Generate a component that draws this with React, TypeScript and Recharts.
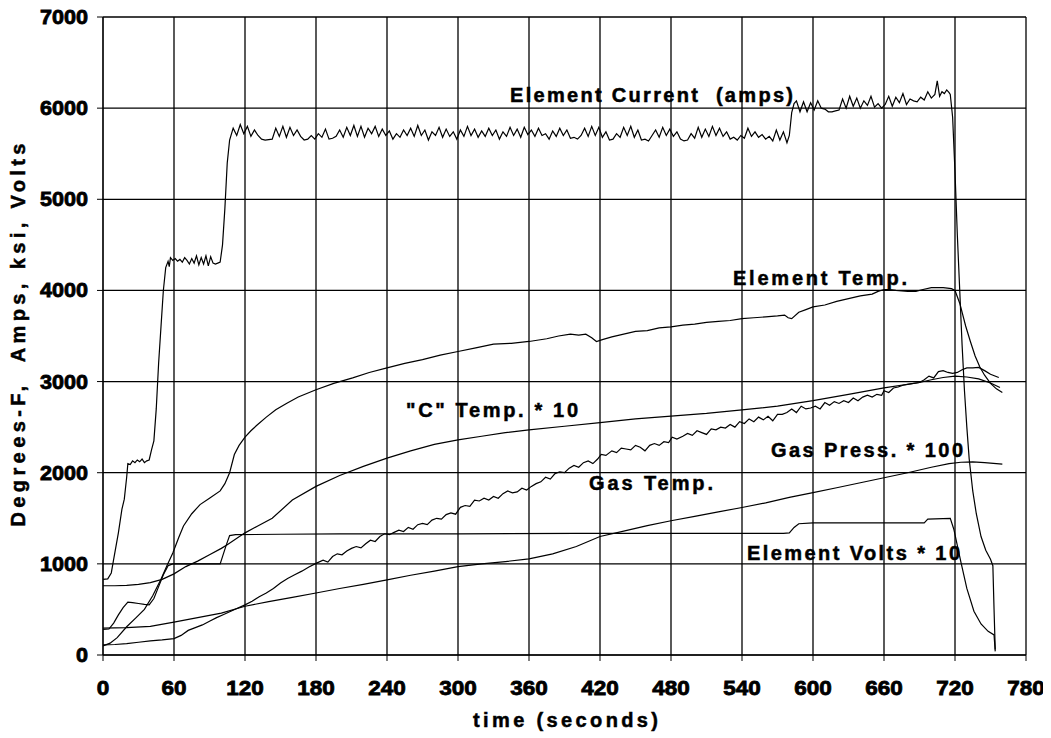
import React, { type ReactElement } from "react";
import { CartesianGrid, Line, LineChart, XAxis, YAxis } from "recharts";

type Point = [number, number];

const timeTicks = [0, 60, 120, 180, 240, 300, 360, 420, 480, 540, 600, 660, 720, 780];
const valueTicks = [0, 1000, 2000, 3000, 4000, 5000, 6000, 7000];

// [time (s), value]
const elementCurrent: Point[] = [
  [0, 830], [4, 835], [7, 900], [9, 1050], [13, 1340], [16, 1600], [18, 1710], [20, 1950], [21, 2100],
  [23, 2090], [25, 2130], [27, 2110], [29, 2140], [31, 2120], [33, 2150], [35, 2110], [37, 2130],
  [39, 2140], [41, 2250], [43, 2350], [45, 2700], [47, 3200], [49, 3600], [51, 4000], [53, 4250],
  [55, 4320], [56, 4260], [57, 4360], [59, 4330], [61, 4350], [63, 4320], [65, 4340], [67, 4310],
  [69, 4360], [71, 4330], [73, 4290], [75, 4350], [77, 4300], [79, 4380], [81, 4280], [83, 4360],
  [85, 4290], [87, 4380], [89, 4270], [91, 4370], [93, 4300], [95, 4290], [97, 4300], [99, 4310],
  [101, 4500], [103, 4900], [105, 5400], [107, 5650], [110, 5780], [113, 5700], [116, 5820],
  [119, 5720], [122, 5800], [125, 5690], [128, 5760], [131, 5700], [134, 5660], [137, 5650],
  [140, 5655], [143, 5660], [146, 5780], [149, 5690], [152, 5800], [155, 5680], [158, 5790],
  [161, 5700], [164, 5760], [167, 5690], [170, 5650], [173, 5660], [176, 5700], [179, 5660],
  [182, 5720], [185, 5680], [188, 5770], [191, 5660], [194, 5670], [197, 5690], [200, 5760],
  [203, 5680], [206, 5790], [209, 5700], [212, 5810], [215, 5690], [218, 5800], [221, 5680],
  [224, 5780], [227, 5720], [230, 5800], [233, 5690], [236, 5770], [239, 5700], [242, 5750],
  [245, 5660], [248, 5720], [251, 5680], [254, 5760], [257, 5700], [260, 5780], [263, 5690],
  [266, 5810], [269, 5700], [272, 5760], [275, 5650], [278, 5740], [281, 5700], [284, 5790],
  [287, 5680], [290, 5770], [293, 5690], [296, 5740], [299, 5660], [302, 5760], [305, 5690],
  [308, 5800], [311, 5700], [314, 5770], [317, 5680], [320, 5750], [323, 5690], [326, 5780],
  [329, 5700], [332, 5760], [335, 5660], [338, 5740], [341, 5690], [344, 5790], [347, 5700],
  [350, 5770], [353, 5680], [356, 5790], [359, 5710], [362, 5760], [365, 5690], [368, 5780],
  [371, 5700], [374, 5720], [377, 5660], [380, 5750], [383, 5690], [386, 5780], [389, 5700],
  [392, 5760], [395, 5670], [398, 5680], [401, 5660], [404, 5700], [407, 5780], [410, 5690],
  [413, 5800], [416, 5700], [419, 5790], [422, 5680], [425, 5740], [428, 5650], [431, 5660],
  [434, 5720], [437, 5680], [440, 5790], [443, 5700], [446, 5800], [449, 5680], [452, 5760],
  [455, 5650], [458, 5660], [461, 5640], [464, 5700], [467, 5760], [470, 5680], [473, 5790],
  [476, 5700], [479, 5770], [482, 5690], [485, 5740], [488, 5660], [491, 5640], [494, 5650],
  [497, 5720], [500, 5670], [503, 5790], [506, 5680], [509, 5770], [512, 5690], [515, 5800],
  [518, 5700], [521, 5780], [524, 5690], [527, 5740], [530, 5660], [533, 5680], [536, 5650],
  [539, 5700], [542, 5670], [545, 5780], [548, 5690], [551, 5740], [554, 5680], [557, 5710],
  [560, 5660], [563, 5690], [566, 5640], [569, 5760], [572, 5650], [575, 5740], [578, 5620],
  [580, 5700], [582, 5950], [584, 6050], [586, 6080], [589, 5960], [592, 6070], [595, 5960],
  [598, 6060], [601, 5980], [604, 6080], [607, 6000], [610, 5990], [613, 5960], [616, 5960],
  [619, 5970], [622, 5980], [625, 6100], [628, 6000], [631, 6130], [634, 6020], [637, 6110],
  [640, 6000], [643, 6080], [646, 6030], [649, 6130], [652, 6010], [655, 6050], [658, 6000],
  [661, 6040], [664, 6130], [667, 6020], [670, 6120], [673, 6060], [676, 6160], [679, 6040],
  [682, 6100], [685, 6080], [688, 6070], [691, 6120], [694, 6090], [697, 6180], [700, 6110],
  [703, 6150], [705, 6300], [707, 6130], [709, 6180], [711, 6160], [713, 6200], [715, 6170],
  [716, 6150], [718, 5900], [720, 5300], [722, 4600], [724, 4000], [726, 3400], [728, 2900],
  [730, 2500], [732, 2150], [735, 1800], [738, 1550], [742, 1300], [746, 1150], [750, 1050],
  [752, 980], [753, 500], [754, 60],
];

const elementTemp: Point[] = [
  [0, 100], [6, 130], [12, 190], [20, 310], [28, 410], [35, 500], [42, 650], [49, 830], [54, 980],
  [59, 1120], [64, 1290], [68, 1415], [75, 1550], [82, 1650], [90, 1720], [99, 1800], [103, 1880],
  [107, 2000], [111, 2200], [115, 2300], [120, 2390], [125, 2460], [130, 2520], [138, 2610],
  [146, 2690], [155, 2760], [165, 2830], [180, 2910], [195, 2980], [211, 3040], [225, 3100],
  [240, 3150], [255, 3200], [270, 3240], [285, 3290], [300, 3330], [315, 3370], [330, 3410],
  [345, 3420], [360, 3440], [375, 3470], [385, 3500], [395, 3520], [402, 3510], [408, 3520],
  [413, 3480], [417, 3440], [422, 3460], [430, 3490], [440, 3520], [450, 3550], [460, 3560],
  [470, 3590], [480, 3600], [490, 3620], [500, 3630], [510, 3650], [520, 3660], [530, 3670],
  [540, 3690], [550, 3700], [560, 3710], [570, 3720], [576, 3730], [579, 3700], [582, 3690],
  [588, 3760], [594, 3790], [600, 3820], [610, 3840], [620, 3880], [630, 3910], [640, 3940],
  [650, 3960], [655, 3990], [660, 4010], [665, 4010], [670, 4000], [680, 3990], [687, 3990],
  [693, 4010], [700, 4030], [710, 4030], [717, 4020], [720, 4000], [724, 3860], [729, 3610],
  [733, 3440], [737, 3280], [741, 3160], [745, 3070], [750, 2980], [755, 2920], [760, 2880],
];

const cTemp: Point[] = [
  [0, 760], [10, 760], [20, 765], [30, 775], [40, 795], [50, 830], [60, 890], [70, 970],
  [80, 1030], [90, 1100], [100, 1170], [105, 1210], [120, 1340], [130, 1410], [143, 1500],
  [160, 1700], [180, 1850], [200, 1970], [220, 2070], [240, 2160], [260, 2240], [280, 2310],
  [300, 2360], [320, 2400], [340, 2440], [360, 2470], [390, 2510], [420, 2550], [450, 2590],
  [480, 2620], [510, 2650], [540, 2690], [570, 2730], [600, 2790], [630, 2860], [660, 2930],
  [690, 2990], [700, 3020], [710, 3045], [720, 3060], [730, 3050], [740, 3030], [750, 2985],
  [758, 2935],
];

const gasTemp: Point[] = [
  [0, 110], [10, 115], [20, 125], [30, 140], [40, 155], [50, 165], [60, 180], [66, 215], [72, 270],
  [78, 300], [84, 330], [90, 370], [96, 410], [102, 445], [108, 480], [114, 515], [120, 550],
  [126, 590], [132, 640], [138, 680], [144, 730], [150, 790], [156, 840], [162, 880], [168, 920],
  [174, 965], [180, 1005], [186, 1040], [190, 1020], [194, 1080], [198, 1110], [202, 1100],
  [206, 1140], [210, 1170], [214, 1190], [218, 1175], [222, 1220], [226, 1260], [230, 1245],
  [234, 1300], [238, 1330], [242, 1320], [246, 1345], [250, 1370], [254, 1355], [258, 1400],
  [262, 1380], [266, 1430], [270, 1445], [274, 1430], [278, 1480], [282, 1500], [286, 1490],
  [290, 1540], [294, 1560], [298, 1545], [302, 1620], [306, 1640], [310, 1630], [314, 1700],
  [318, 1690], [322, 1720], [326, 1700], [330, 1740], [334, 1720], [338, 1770], [342, 1800],
  [346, 1780], [350, 1790], [354, 1830], [358, 1810], [362, 1850], [366, 1880], [370, 1900],
  [374, 1950], [378, 1930], [382, 1990], [386, 2010], [390, 2000], [394, 2050], [398, 2080],
  [402, 2060], [406, 2110], [410, 2130], [414, 2100], [418, 2150], [421, 2200], [425, 2190],
  [430, 2240], [434, 2220], [438, 2270], [442, 2260], [446, 2250], [450, 2300], [454, 2280],
  [458, 2240], [462, 2300], [466, 2320], [470, 2300], [474, 2340], [478, 2330], [481, 2390],
  [485, 2370], [490, 2400], [494, 2430], [498, 2410], [502, 2460], [506, 2440], [510, 2420],
  [514, 2480], [518, 2470], [522, 2500], [526, 2490], [530, 2530], [534, 2500], [538, 2560],
  [542, 2540], [546, 2590], [550, 2560], [554, 2610], [558, 2580], [562, 2620], [566, 2570],
  [570, 2640], [574, 2640], [578, 2660], [582, 2700], [586, 2660], [590, 2730], [594, 2700],
  [598, 2710], [602, 2730], [606, 2700], [610, 2770], [614, 2740], [618, 2780], [622, 2760],
  [626, 2790], [630, 2770], [634, 2820], [638, 2790], [642, 2830], [646, 2850], [650, 2830],
  [654, 2860], [658, 2850], [660, 2900], [664, 2880], [668, 2930], [672, 2940], [676, 2960],
  [680, 2970], [685, 2980], [690, 2990], [694, 3020], [698, 3060], [702, 3040], [706, 3110],
  [710, 3120], [714, 3100], [718, 3090], [722, 3100], [726, 3130], [730, 3150], [735, 3150],
  [740, 3155], [745, 3120], [750, 3080], [757, 3045],
];

const gasPress: Point[] = [
  [0, 295], [20, 300], [40, 315], [60, 360], [80, 410], [100, 460], [120, 535], [140, 585],
  [160, 632], [180, 680], [200, 730], [220, 775], [240, 825], [260, 875], [280, 920], [300, 970],
  [320, 1000], [340, 1025], [360, 1055], [380, 1110], [400, 1190], [420, 1300], [440, 1360],
  [460, 1420], [480, 1473], [500, 1520], [520, 1570], [540, 1618], [560, 1670], [580, 1730],
  [600, 1782], [620, 1835], [640, 1890], [660, 1945], [680, 2000], [700, 2060], [715, 2100],
  [725, 2115], [735, 2120], [745, 2110], [760, 2095],
];

const elementVolts: Point[] = [
  [0, 280], [5, 285], [9, 350], [13, 440], [17, 520], [21, 580], [25, 575], [30, 565], [35, 555],
  [39, 550], [43, 620], [47, 750], [51, 880], [55, 980], [59, 1000], [70, 1000], [85, 1000],
  [99, 1000], [101, 1080], [104, 1200], [107, 1310], [112, 1320], [150, 1325], [200, 1330],
  [300, 1330], [400, 1335], [500, 1335], [575, 1335], [580, 1340], [584, 1400], [588, 1440],
  [600, 1450], [650, 1450], [694, 1450], [697, 1490], [716, 1500], [719, 1380], [722, 1200],
  [725, 1020], [730, 730], [736, 480], [742, 340], [748, 260], [753, 220], [754, 40],
];

const series = [
  { name: "Element Current (amps)", points: elementCurrent },
  { name: "Element Temp.", points: elementTemp },
  { name: '"C" Temp. * 10', points: cTemp },
  { name: "Gas Temp.", points: gasTemp },
  { name: "Gas Press. * 100", points: gasPress },
  { name: "Element Volts * 10", points: elementVolts },
];

// annotation text: left x, baseline y, drawn width (px)
const annotations = [
  { text: "Element Current  (amps)", x: 510, y: 102, width: 283 },
  { text: "Element Temp.", x: 733, y: 285, width: 174 },
  { text: '"C" Temp. * 10', x: 406, y: 417, width: 172 },
  { text: "Gas Press. * 100", x: 771, y: 457, width: 192 },
  { text: "Gas Temp.", x: 589, y: 490, width: 124 },
  { text: "Element Volts * 10", x: 747, y: 560, width: 213 },
];

const FONT = "'Liberation Sans', Arial, sans-serif";

const YTick = (props: any): ReactElement => {
  const { x, y, payload } = props;
  const label = String(payload.value);
  return (
    <text
      x={x}
      y={y}
      textAnchor="end"
      dominantBaseline="central"
      fontFamily={FONT}
      fontWeight="bold"
      fontSize={20}
      fill="#000"
      stroke="#000"
      strokeWidth={0.8}
      textLength={label.length * 12}
      lengthAdjust="spacingAndGlyphs"
    >
      {label}
    </text>
  );
};

const XTick = (props: any): ReactElement => {
  const { x, y, payload } = props;
  const label = String(payload.value);
  return (
    <text
      x={x}
      y={y}
      textAnchor="middle"
      dominantBaseline="central"
      fontFamily={FONT}
      fontWeight="bold"
      fontSize={20}
      fill="#000"
      stroke="#000"
      strokeWidth={0.8}
      textLength={label.length * 12.5}
      lengthAdjust="spacingAndGlyphs"
    >
      {label}
    </text>
  );
};

export default function App(): ReactElement {
  return (
    <div style={{ margin: "-8px 0 0 -8px", width: 1051, height: 738 }}>
      <LineChart
        width={1051}
        height={738}
        margin={{ top: 17, right: 25, left: 8, bottom: 8 }}
        style={{ background: "#fff" }}
      >
        <CartesianGrid stroke="#000" strokeWidth={1.3} strokeOpacity={1} />
        <XAxis
          dataKey="t"
          type="number"
          domain={[0, 780]}
          ticks={timeTicks}
          height={75}
          tickSize={6}
          tickMargin={27}
          stroke="#000"
          tick={<XTick />}
          allowDataOverflow
        />
        <YAxis
          type="number"
          domain={[0, 7000]}
          ticks={valueTicks}
          width={95}
          tickSize={6}
          tickMargin={9}
          stroke="#000"
          tick={<YTick />}
          allowDataOverflow
        />
        {series.map((s) => (
          <Line
            key={s.name}
            name={s.name}
            data={s.points.map(([t, v]) => ({ t, v }))}
            dataKey="v"
            type="linear"
            stroke="#000"
            strokeWidth={1.2}
            dot={false}
            isAnimationActive={false}
          />
        ))}
        <g fontFamily={FONT} fontWeight="bold" fill="#000">
          {annotations.map((a) => (
            <text
              key={a.text}
              x={a.x}
              y={a.y}
              fontSize={20}
              stroke="#000"
              strokeWidth={0.5}
              textLength={a.width}
              lengthAdjust="spacing"
              style={{ whiteSpace: "pre" }}
            >
              {a.text}
            </text>
          ))}
          <text
            x={473}
            y={727}
            fontSize={20}
            stroke="#000"
            strokeWidth={0.5}
            textLength={185}
            lengthAdjust="spacing"
          >
            time (seconds)
          </text>
          <text
            x={18}
            y={335}
            transform="rotate(-90, 18, 335)"
            textAnchor="middle"
            dominantBaseline="central"
            fontSize={20}
            stroke="#000"
            strokeWidth={0.5}
            textLength={383}
            lengthAdjust="spacing"
            style={{ whiteSpace: "pre" }}
          >
            Degrees-F,  Amps, ksi, Volts
          </text>
        </g>
      </LineChart>
    </div>
  );
}
